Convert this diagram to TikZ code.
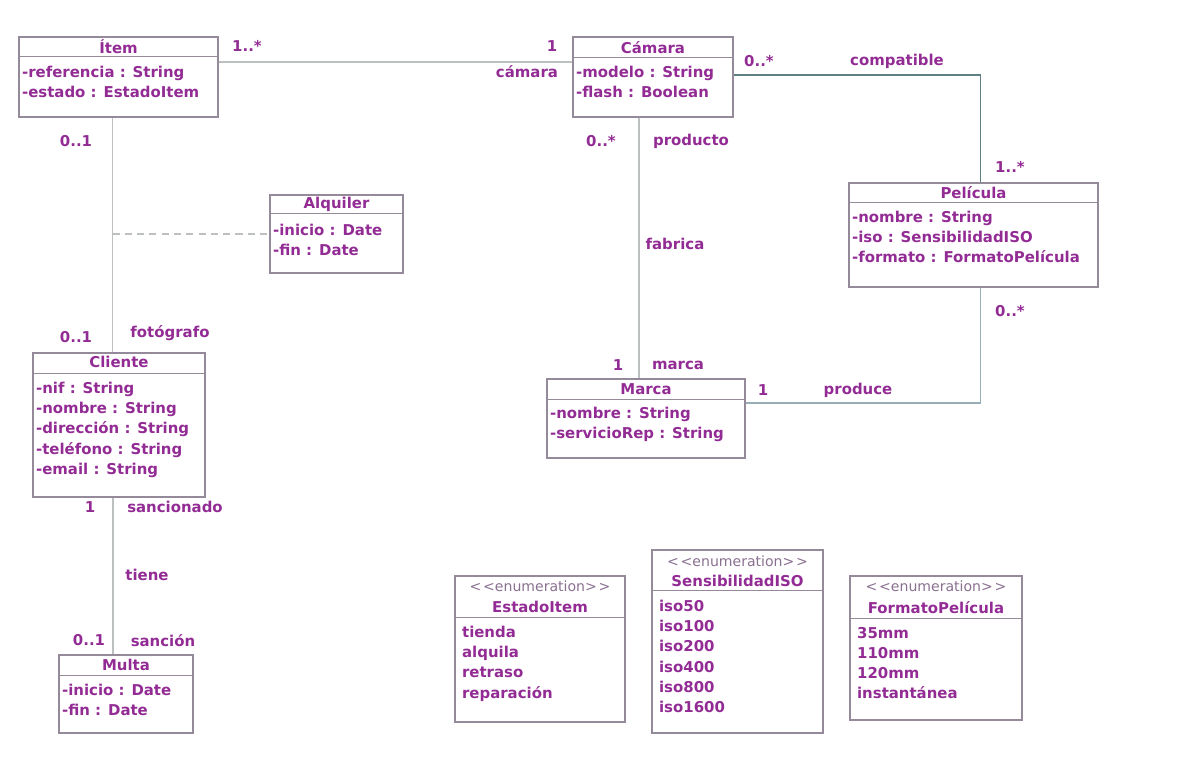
\documentclass[tikz,border=0pt]{standalone}
\usepackage{fontspec}
\setmainfont{DejaVu Sans}
\usetikzlibrary{positioning,fit,calc}
\definecolor{umltext}{HTML}{922C94}
\definecolor{umlstereo}{HTML}{8A7090}
\definecolor{umlborder}{HTML}{948A9A}
\definecolor{linklight}{HTML}{BDC0C0}
\definecolor{linkteal}{HTML}{5E8082}
\definecolor{linkblue}{HTML}{98AEB6}
\newcommand{\enumtag}{<\kern1pt<enumeration>\kern1pt>}

\begin{document}
\begin{tikzpicture}[
    x=0.02cm, y=-0.02cm,
    every node/.style={font=\fontsize{8.5}{11.5}\selectfont\bfseries, text=umltext},
    classbox/.style={
        rectangle,
        draw=umlborder,
        line width=0.8pt,
        inner sep=0pt
    },
    sepline/.style={draw=umlborder, line width=0.8pt},
    classname/.style={inner sep=0pt},
    attrs/.style={anchor=north west, align=left, inner sep=1pt},
    stereo/.style={inner sep=0pt, font=\fontsize{8}{8}\selectfont, text=umlstereo},
    mult/.style={inner sep=1pt},
    assoc/.style={draw=linklight, line width=1pt}
]
    \useasboundingbox (0,0) rectangle (1180,772);

    % === CLASSES ===
    % Item
    \node[classbox, fit={(19,37) (218,117)}] (item) {};
    \draw[sepline] ($(item.north west)+(0,20)$) -- ($(item.north east)+(0,20)$);
    \node[classname] (itemname) at ($(item.north)+(0,10)$) {Ítem};
    \node[attrs] (itemattrs) at (20,64) {-referencia : String\\-estado : EstadoItem};

    % Camara
    \node[classbox, fit={(573,37) (733,117)}] (camara) {};
    \draw[sepline] ($(camara.north west)+(0,21)$) -- ($(camara.north east)+(0,21)$);
    \node[classname] (camaraname) at ($(camara.north)+(0,11)$) {Cámara};
    \node[attrs] (camaraattrs) at (574,64) {-modelo : String\\-flash : Boolean};

    % Pelicula
    \node[classbox, fit={(849,183) (1098,287)}] (pelicula) {};
    \draw[sepline] ($(pelicula.north west)+(0,20)$) -- ($(pelicula.north east)+(0,20)$);
    \node[classname] (peliculaname) at ($(pelicula.north)+(0,10)$) {Película};
    \node[attrs] (peliculaattrs) at (850,209) {-nombre : String\\-iso : SensibilidadISO\\-formato : FormatoPelícula};

    % Alquiler (association class)
    \node[classbox, fit={(270,195) (403,273)}] (alquiler) {};
    \draw[sepline] ($(alquiler.north west)+(0,19)$) -- ($(alquiler.north east)+(0,19)$);
    \node[classname] (alquilername) at ($(alquiler.north)+(0,10)$) {Alquiler};
    \node[attrs] (alquilerattrs) at (271,222) {-inicio : Date\\-fin : Date};

    % Cliente
    \node[classbox, fit={(33,353) (205,497)}] (cliente) {};
    \draw[sepline] ($(cliente.north west)+(0,21)$) -- ($(cliente.north east)+(0,21)$);
    \node[classname] (clientename) at ($(cliente.north)+(0,10)$) {Cliente};
    \node[attrs] (clienteattrs) at (34,380) {-nif : String\\-nombre : String\\-dirección : String\\-teléfono : String\\-email : String};

    % Marca
    \node[classbox, fit={(547,379) (745,458)}] (marca) {};
    \draw[sepline] ($(marca.north west)+(0,21)$) -- ($(marca.north east)+(0,21)$);
    \node[classname] (marcaname) at ($(marca.north)+(0,11)$) {Marca};
    \node[attrs] (marcaattrs) at (548,405) {-nombre : String\\-servicioRep : String};

    % Multa
    \node[classbox, fit={(59,655) (193,733)}] (multa) {};
    \draw[sepline] ($(multa.north west)+(0,21)$) -- ($(multa.north east)+(0,21)$);
    \node[classname] (multaname) at ($(multa.north)+(0,11)$) {Multa};
    \node[attrs] (multaattrs) at (60,682) {-inicio : Date\\-fin : Date};

    % === ENUMERATIONS ===
    \node[classbox, fit={(455,576) (625,722)}] (estado) {};
    \draw[sepline] ($(estado.north west)+(0,42)$) -- ($(estado.north east)+(0,42)$);
    \node[stereo] (estadostereo) at ($(estado.north)+(0,11)$) {\enumtag};
    \node[classname] (estadoname) at ($(estado.north)+(0,32)$) {EstadoItem};
    \node[attrs] (estadovalues) at (460,624) {tienda\\alquila\\retraso\\reparación};

    \node[classbox, fit={(652,550) (823,733)}] (iso) {};
    \draw[sepline] ($(iso.north west)+(0,41)$) -- ($(iso.north east)+(0,41)$);
    \node[stereo] (isostereo) at ($(iso.north)+(0,12)$) {\enumtag};
    \node[classname] (isoname) at ($(iso.north)+(0,32)$) {SensibilidadISO};
    \node[attrs] (isovalues) at (657,598) {iso50\\iso100\\iso200\\iso400\\iso800\\iso1600};

    \node[classbox, fit={(850,576) (1022,720)}] (formato) {};
    \draw[sepline] ($(formato.north west)+(0,43)$) -- ($(formato.north east)+(0,43)$);
    \node[stereo] (formatostereo) at ($(formato.north)+(0,11)$) {\enumtag};
    \node[classname] (formatoname) at ($(formato.north)+(0,32)$) {FormatoPelícula};
    \node[attrs] (formatovalues) at (855,625) {35mm\\110mm\\120mm\\instantánea};

    % === ASSOCIATIONS ===
    % Item -- Camara
    \draw[assoc] ($(item.north east)+(0,26)$) -- ($(camara.north west)+(0,26)$);
    \node[mult] at (247,46) {1..*};
    \node[mult] at (552,46) {1};
    \node[mult] at (527,72) {cámara};

    % Item -- Cliente, with Alquiler
    \coordinate (itemfoot) at ($(item.south)+(-6,0)$);
    \draw[assoc] (itemfoot) -- (itemfoot |- cliente.north);
    \draw[assoc, dashed, dash pattern=on 4pt off 3pt] (itemfoot |- alquiler.west) -- (alquiler.west);
    \node[mult] at (76,141) {0..1};
    \node[mult] at (76,337) {0..1};
    \node[mult] at (170,333) {fotógrafo};

    % Cliente -- Multa
    \coordinate (clientefoot) at ($(cliente.south)+(-6,0)$);
    \draw[assoc] (clientefoot) -- (clientefoot |- multa.north);
    \node[mult] at (90,507) {1};
    \node[mult] at (175,507) {sancionado};
    \node[mult] at (147,575) {tiene};
    \node[mult] at (89,640) {0..1};
    \node[mult] at (163,641) {sanción};

    % Camara -- Marca
    \coordinate (camarafoot) at ($(camara.south)+(-14,0)$);
    \draw[assoc] (camarafoot) -- (camarafoot |- marca.north);
    \node[mult] at (601,141) {0..*};
    \node[mult] at (691,141) {producto};
    \node[mult] at (675,244) {fabrica};
    \node[mult] at (618,365) {1};
    \node[mult] at (678,365) {marca};

    % Camara -- Pelicula
    \draw[assoc, draw=linkteal] ($(camara.north east)+(0,39)$) -| ($(pelicula.north)+(7,0)$);
    \node[mult] at (759,61) {0..*};
    \node[mult] at (897,61) {compatible};
    \node[mult] at (1010,167) {1..*};

    % Marca -- Pelicula
    \draw[assoc, draw=linkblue] ($(marca.north east)+(0,25)$) -| ($(pelicula.south)+(7,0)$);
    \node[mult] at (763,390) {1};
    \node[mult] at (858,390) {produce};
    \node[mult] at (1010,311) {0..*};
\end{tikzpicture}
\end{document}
